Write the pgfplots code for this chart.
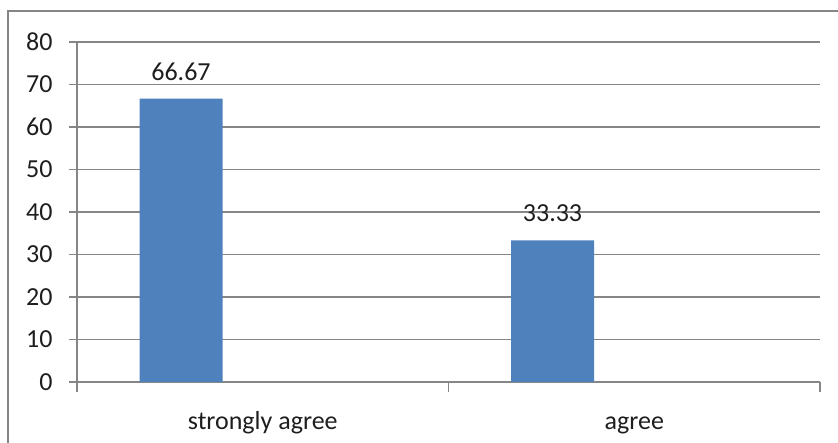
\documentclass[border=0pt]{standalone}
\usepackage{pgfplots}
\pgfplotsset{compat=1.18}
\usepackage{fontspec}
\setmainfont{Carlito}
\definecolor{barblue}{RGB}{79,129,189}
\definecolor{gridgray}{RGB}{134,134,134}
\definecolor{txt}{RGB}{30,30,30}
\begin{document}
\begin{tikzpicture}[x=1pt,y=1pt]
\useasboundingbox (0,0) rectangle (419,221.5);
\draw[gridgray, line width=1pt] (4,0) -- (4,215.75) -- (419,215.75);
\begin{axis}[
  at={(38.5pt,30.5pt)}, anchor=south west,
  scale only axis, width=371.5pt, height=170pt,
  xmin=-0.5, xmax=1.5, ymin=0, ymax=80,
  axis x line*=bottom, axis y line*=left,
  axis line style={gridgray, line width=0.6pt},
  ytick={0,10,...,80},
  ymajorgrids, grid style={gridgray, line width=0.6pt},
  y tick style={gridgray, line width=0.6pt},
  tick align=outside, major tick length=4pt,
  xtick={0,1}, xticklabels={strongly agree, agree},
  x tick style={draw=none},
  extra x ticks={-0.5,0.5,1.5}, extra x tick labels={},
  extra x tick style={grid=none, x tick style={draw=gridgray, line width=0.6pt}, major tick length=5pt},
  /pgf/number format/assume math mode=true,
  ticklabel style={font=\fontsize{13}{15}\selectfont, text=txt},
  yticklabel style={inner sep=0pt, xshift=-8pt},
  xticklabel style={inner sep=0pt, text height=9pt, text depth=3pt, yshift=-10.5pt},
  point meta=explicit symbolic,
  nodes near coords,
  every node near coord/.append style={font=\fontsize{13}{15}\selectfont, text=txt, anchor=south, inner sep=0pt, yshift=9pt},
]
\addplot[ybar, bar width=0.2234, fill=barblue, draw=none]
  coordinates {(-0.22,66.67)[66.67] (0.78,33.33)[33.33]};
\end{axis}
\end{tikzpicture}
\end{document}
